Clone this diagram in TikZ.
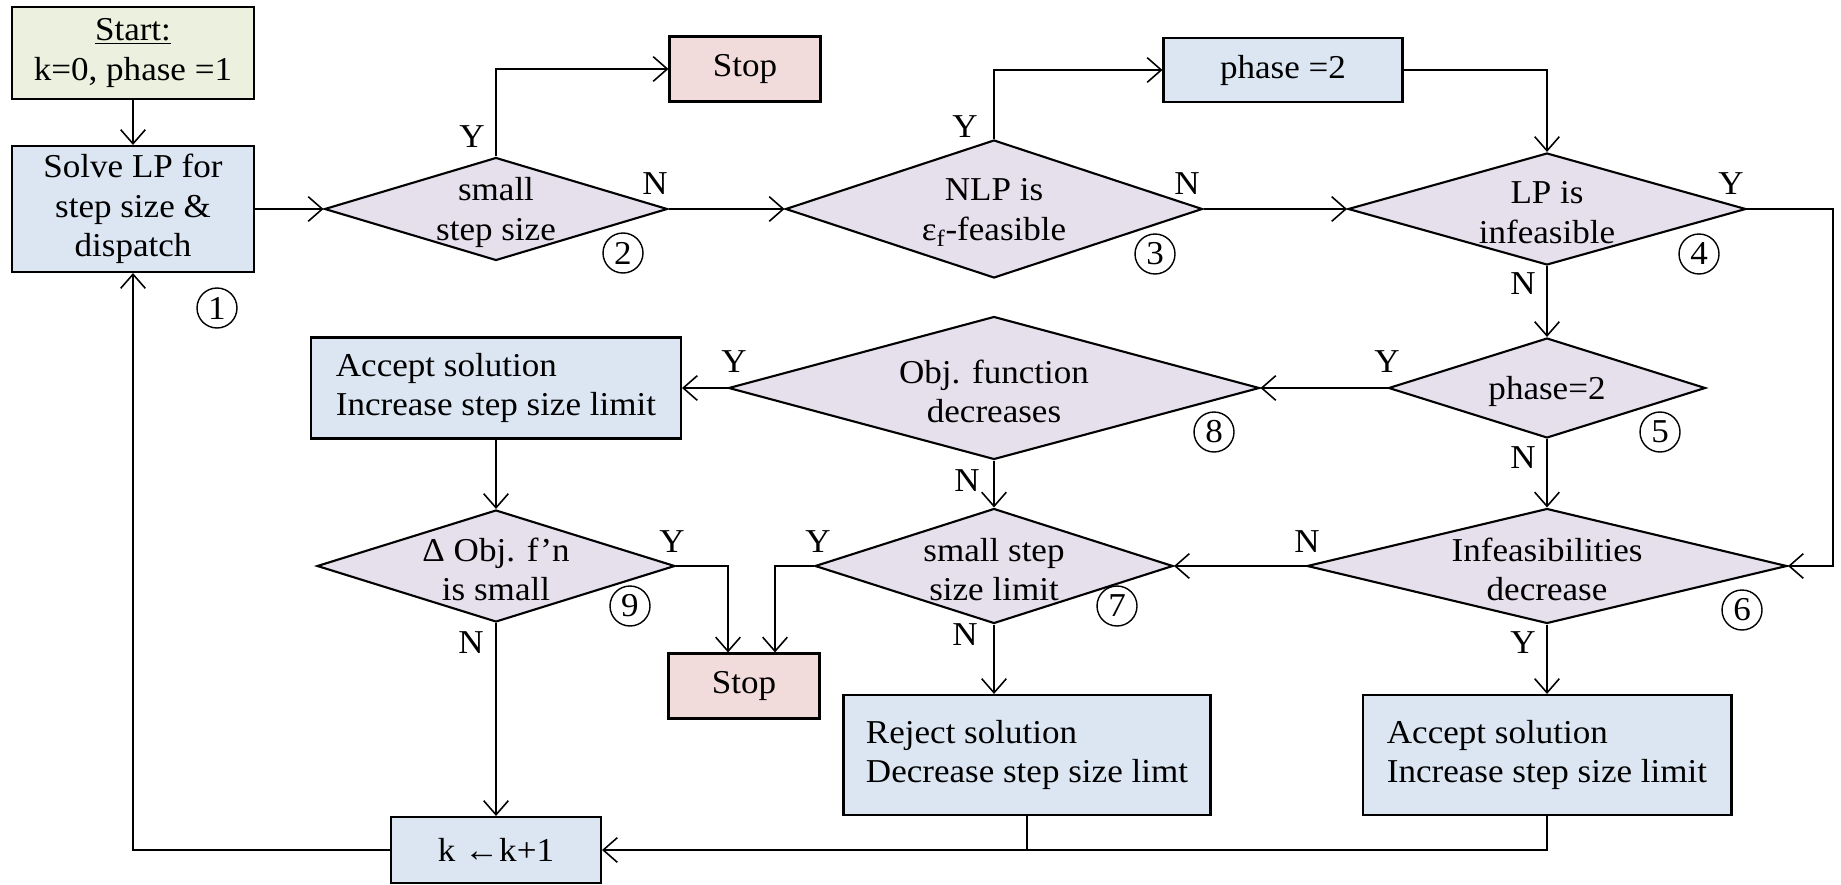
\documentclass[tikz,border=0pt]{standalone}
\usepackage{fontspec}
\setmainfont{Liberation Serif}[FakeStretch=1.05]
\usepackage{tikz}
\usetikzlibrary{shapes.geometric, arrows.meta, positioning, calc}
\definecolor{startgreen}{HTML}{EBF1DE}
\definecolor{procblue}{HTML}{DCE6F2}
\definecolor{stopred}{HTML}{F2DCDB}
\definecolor{decpurple}{HTML}{E5E0EC}

\begin{document}
\begin{tikzpicture}[
  x=0.02cm, y=-0.02cm,
  font=\fontsize{19}{22.5}\selectfont,
  box/.style={rectangle, draw, line width=1.2pt, align=center, inner sep=2pt},
  textbox/.style={box, fill=procblue, align=left},
  decision/.style={diamond, draw, line width=1.2pt, fill=decpurple, inner sep=0pt,
                   label={[align=center, yshift=-2pt]center:#1}},
  arr/.style={-{Straight Barb[length=8pt,width=14pt]}, line width=0.9pt},
  link/.style={line width=0.9pt},
  yn/.style={inner sep=0pt},
  num/.style={circle, draw, line width=0.8pt, minimum size=0.8cm, inner sep=0pt},
]
  \useasboundingbox (0,0) rectangle (1841,885);

  % boxes
  \node[box, fill=startgreen, minimum width=4.84cm, minimum height=1.84cm] (start) at (133,53)
    {\underline{Start:}\\k=0, phase =1};
  \node[box, fill=procblue, minimum width=4.84cm, minimum height=2.52cm] (solve) at (133,209)
    {Solve LP for\\step size \&\\dispatch};
  \node[box, fill=stopred, minimum width=3.02cm, minimum height=1.30cm] (stop1) at (745,69) {Stop};
  \node[box, fill=procblue, minimum width=4.78cm, minimum height=1.28cm] (phase) at (1283,70) {phase =2};
  \node[textbox, minimum width=7.40cm, minimum height=2.02cm] (acc1) at (496,388)
    {Accept solution\\Increase step size limit};
  \node[box, fill=stopred, minimum width=3.02cm, minimum height=1.30cm] (stop2) at (744,686) {Stop};
  \node[textbox, minimum width=7.34cm, minimum height=2.40cm] (reject) at (1027,755)
    {Reject solution\\Decrease step size limt};
  \node[textbox, minimum width=7.38cm, minimum height=2.40cm] (acc2) at (1547,755)
    {Accept solution\\Increase step size limit};
  \node[box, fill=procblue, minimum width=4.20cm, minimum height=1.32cm] (kbox) at (496,850) {k ←k+1};

  % decisions
  \node[decision={small\\step size}, minimum width=6.86cm, minimum height=2.06cm] (d2) at (496,209) {};
  \node[decision={NLP is\\ε\textsubscript{f}-feasible}, minimum width=8.34cm, minimum height=2.76cm] (d3) at (994,209) {};
  \node[decision={LP is\\infeasible}, minimum width=7.96cm, minimum height=2.24cm] (d4) at (1547,209) {};
  \node[decision={phase=2}, minimum width=6.34cm, minimum height=2.00cm] (d5) at (1547,388) {};
  \node[decision={Obj. function\\decreases}, minimum width=10.62cm, minimum height=2.86cm] (d8) at (994,388) {};
  \node[decision={small step\\size limit}, minimum width=7.16cm, minimum height=2.30cm] (d7) at (994,566) {};
  \node[decision={Infeasibilities\\decrease}, minimum width=9.60cm, minimum height=2.30cm] (d6) at (1547,566) {};
  \node[decision={Δ Obj. f’n\\is small}, minimum width=7.16cm, minimum height=2.24cm] (d9) at (496,566) {};

  % step numbers
  \node[num] (c1) at (217,308) {1};
  \node[num] (c2) at (623,253) {2};
  \node[num] (c3) at (1155,254) {3};
  \node[num] (c4) at (1699,254) {4};
  \node[num] (c5) at (1660,432) {5};
  \node[num] (c6) at (1742,610) {6};
  \node[num] (c7) at (1117,606) {7};
  \node[num] (c8) at (1214,432) {8};
  \node[num] (c9) at (630,606) {9};

  % Y/N labels
  \node[yn] (y2) at (472,137) {Y};
  \node[yn] (n2) at (655,184) {N};
  \node[yn] (y3) at (965,127) {Y};
  \node[yn] (n3) at (1187,184) {N};
  \node[yn] (y4) at (1731,184) {Y};
  \node[yn] (n4) at (1523,284) {N};
  \node[yn] (y5) at (1387,362) {Y};
  \node[yn] (n5) at (1523,458) {N};
  \node[yn] (y8) at (734,362) {Y};
  \node[yn] (n8) at (967,481) {N};
  \node[yn] (y7) at (818,542) {Y};
  \node[yn] (n7) at (965,635) {N};
  \node[yn] (n6) at (1307,542) {N};
  \node[yn] (y6) at (1523,643) {Y};
  \node[yn] (y9) at (672,542) {Y};
  \node[yn] (n9) at (471,643) {N};

  \coordinate (rt) at (1833,209);

  % connectors
  \draw[arr] (start) -- (solve);
  \draw[arr] (solve.east) -- (d2.west);
  \draw[arr] (d2.north) |- (stop1.west);
  \draw[arr] (d2.east) -- (d3.west);
  \draw[arr] (d3.north) |- (phase.west);
  \draw[arr] (phase.east) -| (d4.north);
  \draw[arr] (d3.east) -- (d4.west);
  \draw[arr] (d4.east) -- (rt) |- (d6.east);
  \draw[arr] (d4.south) -- (d5.north);
  \draw[arr] (d5.west) -- (d8.east);
  \draw[arr] (d8.west) -- (acc1.east);
  \draw[arr] (d5.south) -- (d6.north);
  \draw[arr] (d6.west) -- (d7.east);
  \draw[arr] (d8.south) -- (d7.north);
  \draw[arr] (acc1.south) -- (d9.north);
  \draw[arr] (d9.east) -| ($(stop2.north)+(-16,0)$);
  \draw[arr] (d7.west) -| ($(stop2.north)+(31,0)$);
  \draw[arr] (d7.south) -- (d7.south |- reject.north);
  \draw[arr] (d6.south) -- (acc2.north);
  \draw[arr] (d9.south) -- (kbox.north);
  \draw[link] (reject.south) -- (reject.south |- kbox.east);
  \draw[arr] (acc2.south) |- (kbox.east);
  \draw[arr] (kbox.west) -| (solve.south);
\end{tikzpicture}
\end{document}
